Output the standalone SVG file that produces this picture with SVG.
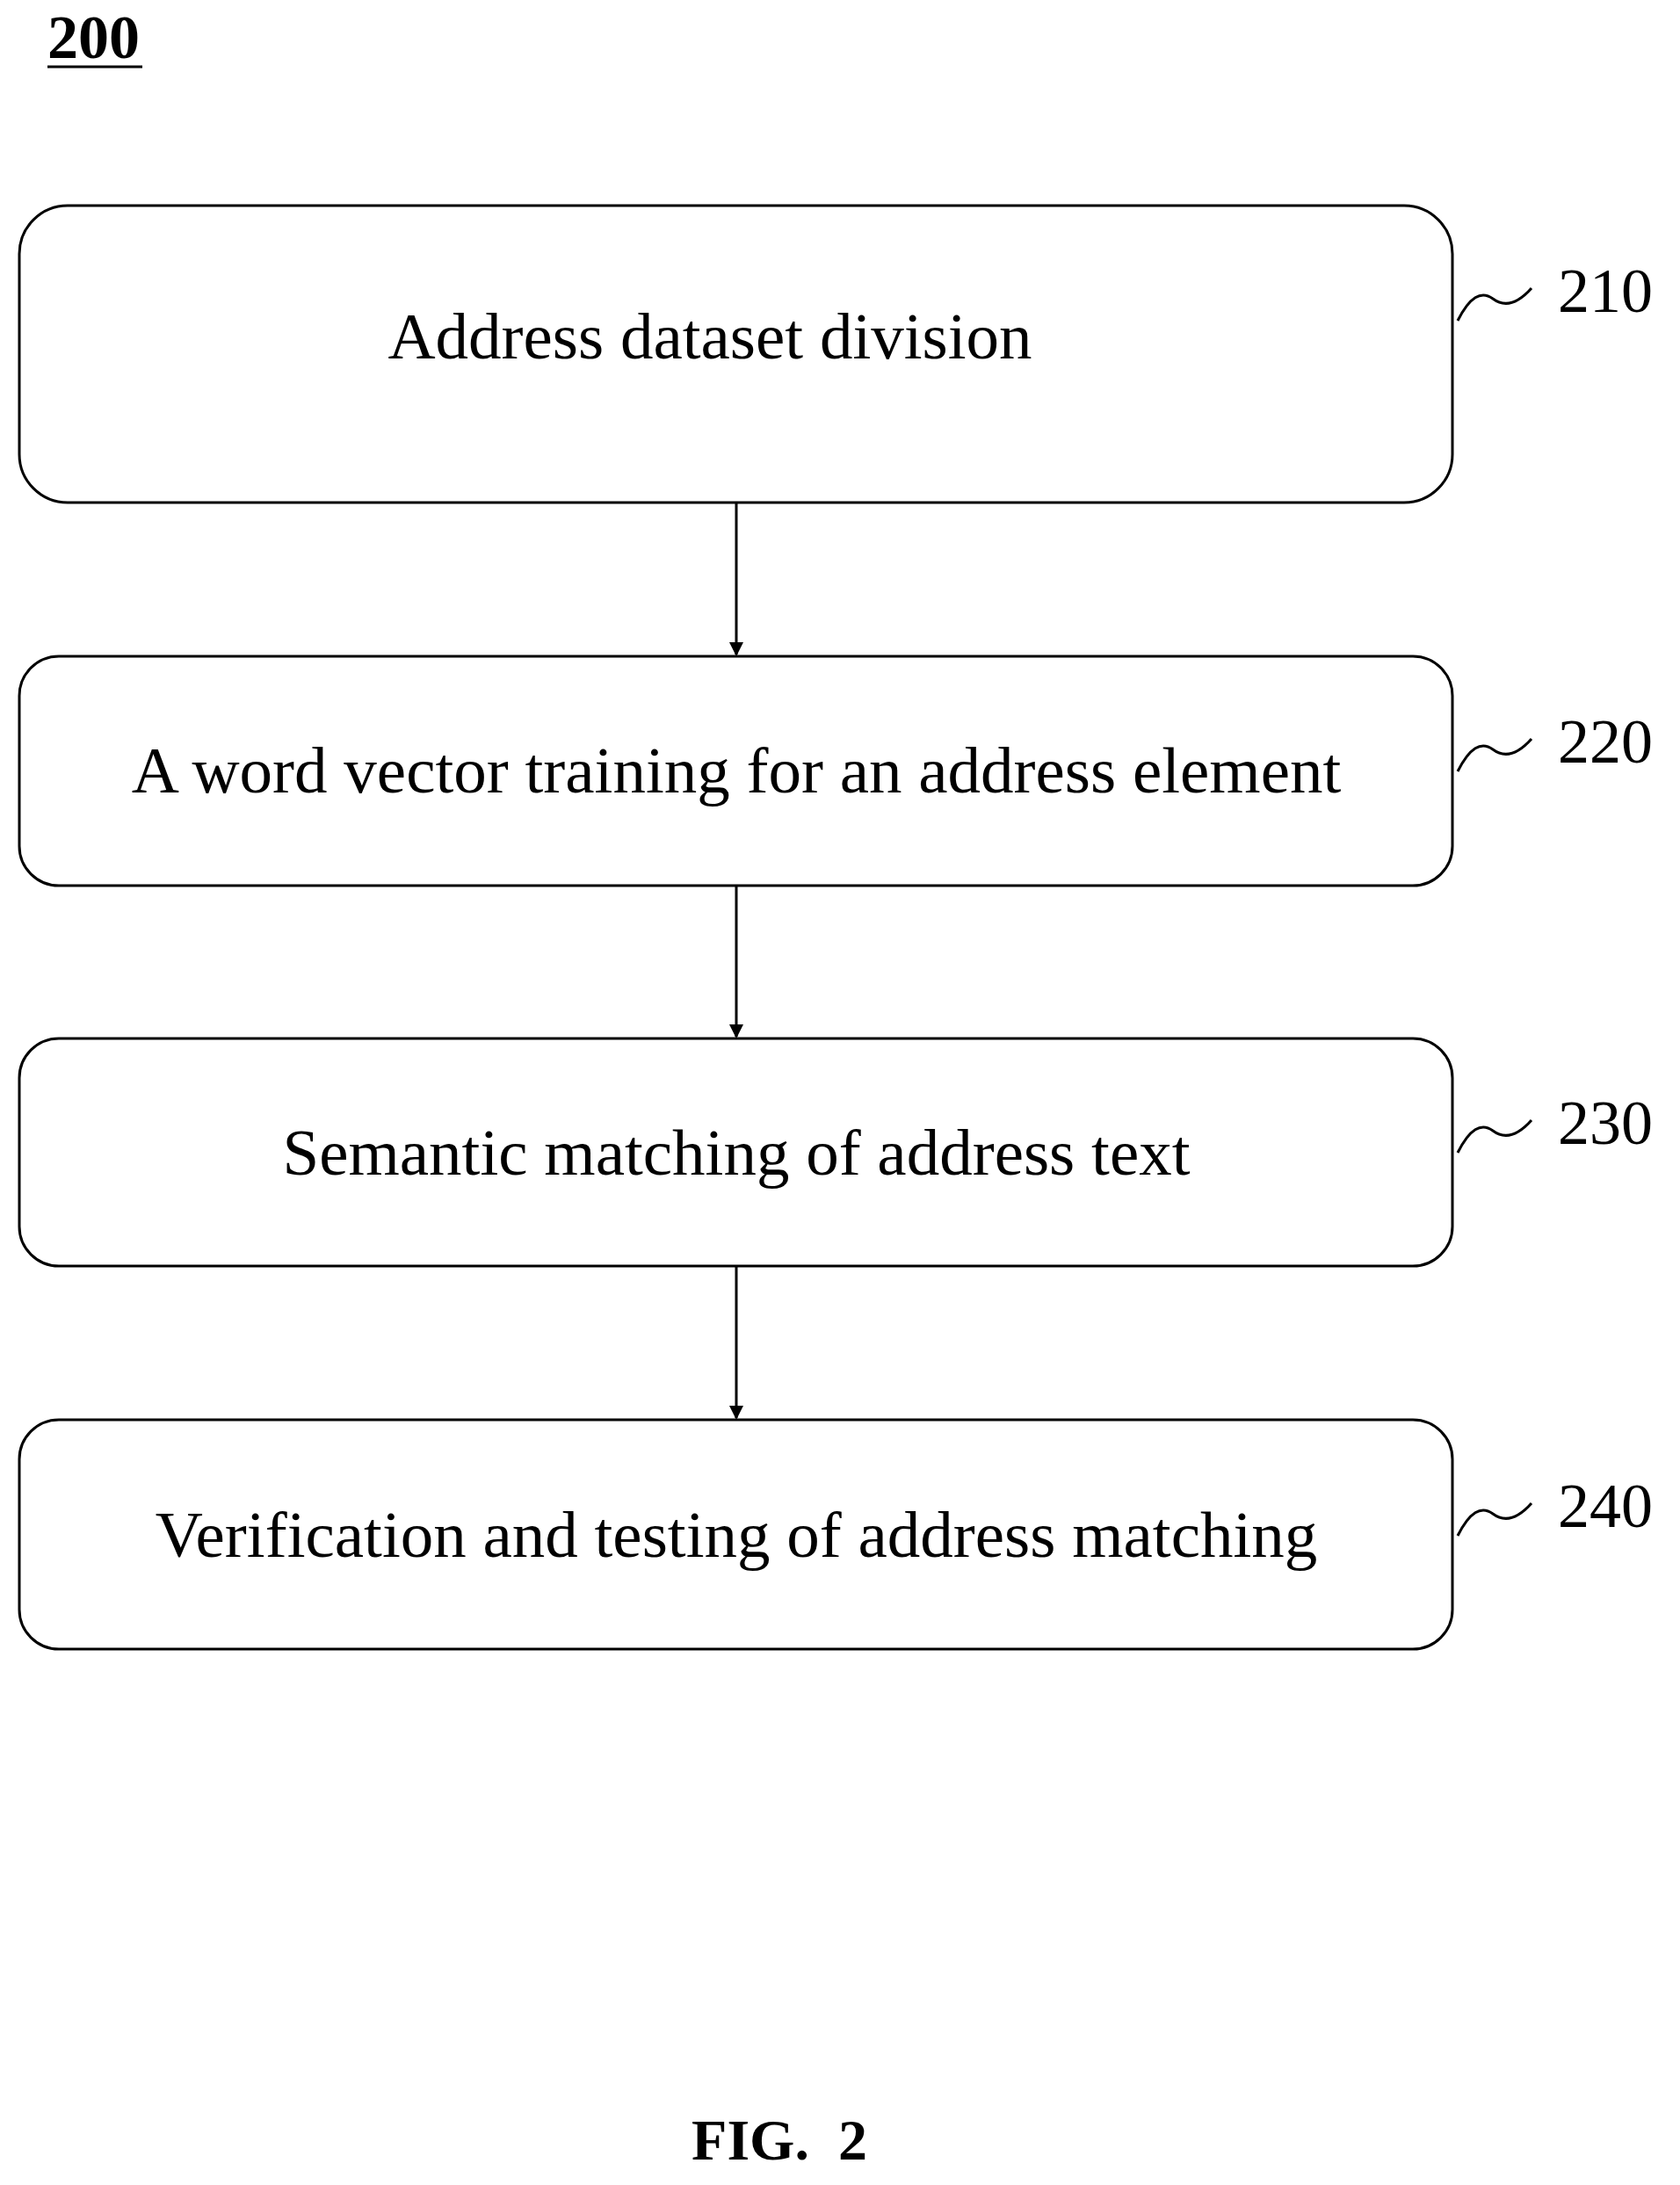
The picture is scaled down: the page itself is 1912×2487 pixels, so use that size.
<svg xmlns="http://www.w3.org/2000/svg" width="1912" height="2487" viewBox="0 0 1912 2487">
<style>
.b{fill:#fff;stroke:#000;stroke-width:3}
.t{font-family:"Liberation Serif",serif;font-size:75px;text-anchor:middle}
.n{font-family:"Liberation Serif",serif;font-size:72px}
.c{fill:none;stroke:#000;stroke-width:3}
</style>
<defs><marker id="a" markerWidth="16" markerHeight="16" refX="14" refY="8" orient="auto" markerUnits="userSpaceOnUse"><path d="M0,0 L16,8 L0,16 Z" fill="#000"/></marker></defs>
<rect width="1912" height="2487" fill="#fff"/>
<text x="54" y="66" font-family="Liberation Serif,serif" font-size="70" font-weight="bold">200</text>
<line x1="54" y1="76" x2="162" y2="76" stroke="#000" stroke-width="3"/>
<g id="n210"><rect class="b" x="22" y="234" width="1631" height="338" rx="55"/><text class="t" x="808" y="408">Address dataset division</text><path class="c" d="M1659,365 q20,-40 40,-25 t44,-12"/><text class="n" x="1773" y="355">210</text></g>
<g id="n220"><rect class="b" x="22" y="747" width="1631" height="261" rx="45"/><text class="t" x="838" y="902">A word vector training for an address element</text><path class="c" d="M1659,878 q20,-40 40,-25 t44,-12"/><text class="n" x="1773" y="868">220</text></g>
<g id="n230"><rect class="b" x="22" y="1182" width="1631" height="259" rx="45"/><text class="t" x="838" y="1337">Semantic matching of address text</text><path class="c" d="M1659,1312 q20,-40 40,-25 t44,-12"/><text class="n" x="1773" y="1302">230</text></g>
<g id="n240"><rect class="b" x="22" y="1616" width="1631" height="261" rx="45"/><text class="t" x="838" y="1772">Verification and testing of address matching</text><path class="c" d="M1659,1748 q20,-40 40,-25 t44,-12"/><text class="n" x="1773" y="1738">240</text></g>
<g id="connectors">
<line class="c" x1="838" y1="572" x2="838" y2="745" marker-end="url(#a)"/>
<line class="c" x1="838" y1="1008" x2="838" y2="1180" marker-end="url(#a)"/>
<line class="c" x1="838" y1="1441" x2="838" y2="1614" marker-end="url(#a)"/>
</g>
<text x="887" y="2458" font-family="Liberation Serif,serif" font-size="66" font-weight="bold" text-anchor="middle" xml:space="preserve">FIG.  2</text>
</svg>
